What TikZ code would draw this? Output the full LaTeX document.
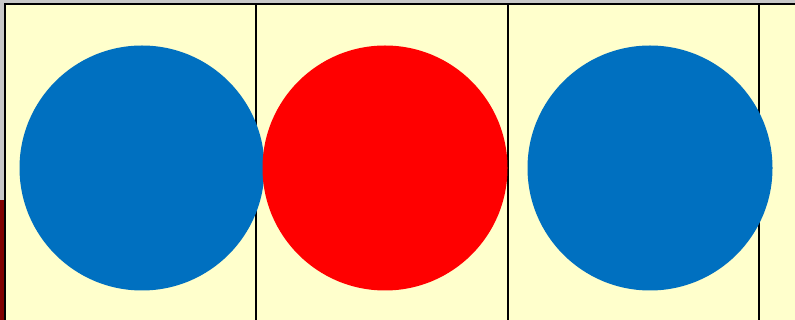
\documentclass[tikz,border=0pt]{standalone}
\usepackage{xcolor}
\usepackage{tikz}
\usetikzlibrary{positioning}
\definecolor{cellfill}{HTML}{FFFFCC}
\definecolor{bluedot}{HTML}{0070C0}
\definecolor{reddot}{HTML}{FF0000}
\definecolor{frame}{HTML}{C8C8C8}
\definecolor{darkred}{HTML}{800000}

\begin{document}
\begin{tikzpicture}[
  x=1pt, y=-1pt,
  cell/.style={draw=black, line width=2pt, fill=cellfill, minimum width=252pt, minimum height=330pt, inner sep=0pt, outer sep=0pt},
  dot/.style={circle, minimum size=245pt, inner sep=0pt}
]
\useasboundingbox (0,0) rectangle (795,320);
% outer strip
\fill[frame] (0,0) rectangle (795,320);
\fill[darkred] (0,200) rectangle (4,320);

% cells
\foreach \i/\x in {0/5, 1/256, 2/508, 3/759}
  \node[cell, anchor=north west] (c\i) at (\x,4) {};

% dots
\node[dot, fill=bluedot] (left)  at (142,168) {};
\node[dot, fill=reddot]  (mid)   at (385,168) {};
\node[dot, fill=bluedot] (right) at (650,168) {};
\end{tikzpicture}
\end{document}
